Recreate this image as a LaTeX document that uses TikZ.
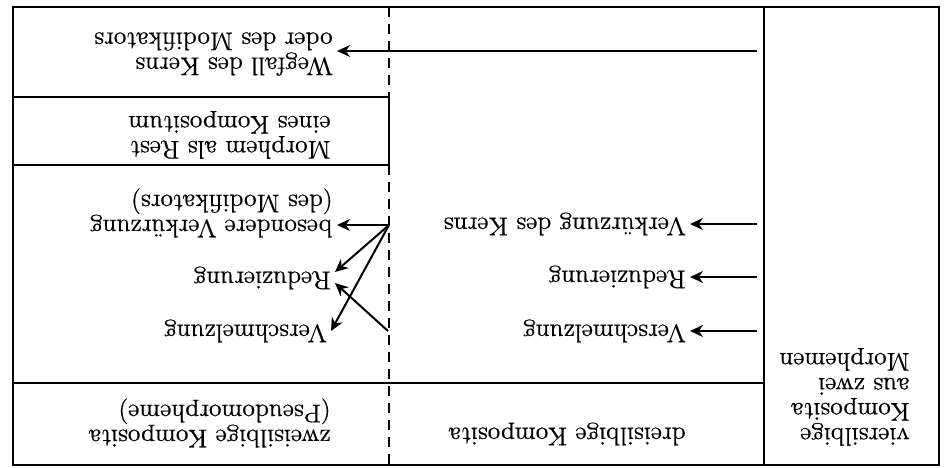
\documentclass[tikz,border=0pt]{standalone}
\usepackage{fontspec}
\newfontfamily\platefont{Latin Modern Roman}[FakeBold=0.6]
\usetikzlibrary{arrows.meta,calc}
\begin{document}
\begin{tikzpicture}[x=0.5pt,y=-0.5pt,
  rule/.style={line width=1.05pt},
  guide/.style={line width=1.05pt, dash pattern=on 5pt off 3.5pt},
  arr/.style={line width=1pt, -{Stealth[length=6.5pt,width=6pt]}},
  lbl/.style={rotate=180, anchor=west, align=left, inner sep=2pt,
              font=\platefont\fontsize{12.8}{12.5}\selectfont},
]
\useasboundingbox (0,0) rectangle (947,467);

% frame and column rules
\draw[rule] (13,7) rectangle (939,465);
\draw[rule] (764,7) -- (764,465);
\draw[rule] (13,97) -- (389,97) -- (389,165) -- (13,165);
\draw[rule] (13,383) -- (764,383);
\draw[guide] (389,7) -- (389,97);
\draw[guide] (389,165) -- (389,465);

% labels (the whole table is printed turned by 180 degrees)
\node[lbl] (weg)   at (337,54)  {Wegfall des Kerns\\oder des Modifikators};
\node[lbl] (rest)  at (335,135) {Morphem als Rest\\eines Kompositum};
\node[lbl] (bes)   at (337,213) {besondere Verkürzung\\(des Modifikators)};
\node[lbl] (redL)  at (335,278) {Reduzierung};
\node[lbl] (verL)  at (331,331) {Verschmelzung};
\node[lbl] (zwei)  at (335,423) {zweisilbige Komposita\\(Pseudomorpheme)};
\node[lbl] (verkM) at (690,224) {Verkürzung des Kerns};
\node[lbl] (redM)  at (690,277) {Reduzierung};
\node[lbl] (verM)  at (690,331) {Verschmelzung};
\node[lbl] (drei)  at (690,434) {dreisilbige Komposita};
\node[lbl] (vier)  at (914,397) {viersilbige\\Komposita\\aus zwei\\Morphemen};

% arrow sources
\coordinate (wegS) at (757,51);
\coordinate (hub)  at (389,225);
\coordinate (low)  at (388,331);
\coordinate (m1)   at (757,224);
\coordinate (m2)   at (757,277);
\coordinate (m3)   at (757,331);

% arrows
\draw[arr] (wegS) -- (weg.west |- wegS);
\draw[arr] (hub) -- (bes.west |- hub);
\draw[arr] (hub) -- ($(redL.west)+(0,-6)$);
\draw[arr] (hub) -- (verL.west);
\draw[arr] (low) -- ($(redL.west)+(0,5)$);
\draw[arr] (m1) -- (verkM.west);
\draw[arr] (m2) -- (redM.west);
\draw[arr] (m3) -- (verM.west);
\end{tikzpicture}
\end{document}
